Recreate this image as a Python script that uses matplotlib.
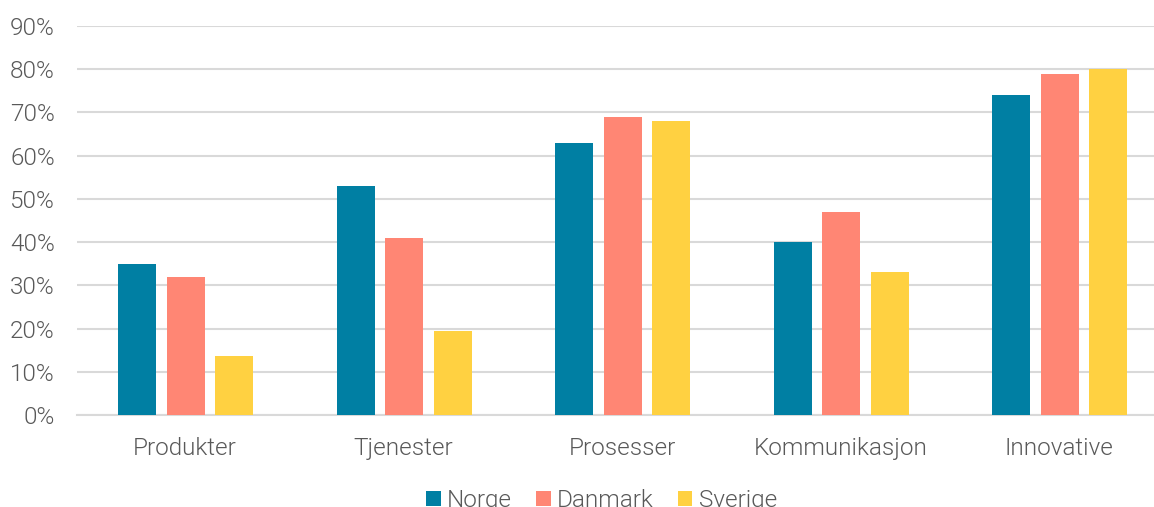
import matplotlib
matplotlib.use("Agg")
import matplotlib.pyplot as plt
import numpy as np
from matplotlib.ticker import PercentFormatter

categories = ["Produkter", "Tjenester", "Prosesser", "Kommunikasjon", "Innovative"]
norge = [35, 53, 63, 40, 74]
danmark = [32, 41, 69, 47, 79]
sverige = [13.7, 19.4, 68, 33.1, 80]
series = [("Norge", norge, "#007FA3"),
          ("Danmark", danmark, "#FF8674"),
          ("Sverige", sverige, "#FFD141")]

plt.rcParams['font.family'] = ['Roboto', 'DejaVu Sans']
plt.rcParams['font.weight'] = 300

fig = plt.figure(figsize=(11.54, 5.07), dpi=100)
ax = fig.add_axes([77 / 1154, 1 - 415 / 507, 1 - 77 / 1154, (415 - 26) / 507])

x = np.arange(len(categories))
step = 0.222
width = 0.174
for i, (name, vals, col) in enumerate(series):
    ax.bar(x + (i - 1) * step + 0.003, vals, width, color=col, label=name, zorder=3)

ax.set_ylim(0, 90)
ax.set_yticks(np.arange(0, 91, 10))
ax.yaxis.set_major_formatter(PercentFormatter(decimals=0))
ax.set_xlim(-0.494, 4.435)
ax.set_xticks(x)
ax.set_xticklabels(categories)
ax.grid(axis='y', color='#d9d9d9', linewidth=1.5, zorder=0)
for s in ['top', 'right', 'left']:
    ax.spines[s].set_visible(False)
ax.spines['bottom'].set_color('#d9d9d9')
ax.spines['bottom'].set_linewidth(1.5)
ax.tick_params(axis='both', length=0, labelsize=17.5, colors='#595959')
ax.tick_params(axis='y', pad=16)
ax.tick_params(axis='x', pad=16)

leg = ax.legend(loc='upper center', bbox_to_anchor=(0.487, -0.165), ncol=3,
                frameon=False, fontsize=17.5, handlelength=0.6, handleheight=0.6,
                handletextpad=0.25, columnspacing=1.0, labelcolor='#595959',
                borderaxespad=0)

fig.savefig("out.png", dpi=100)
